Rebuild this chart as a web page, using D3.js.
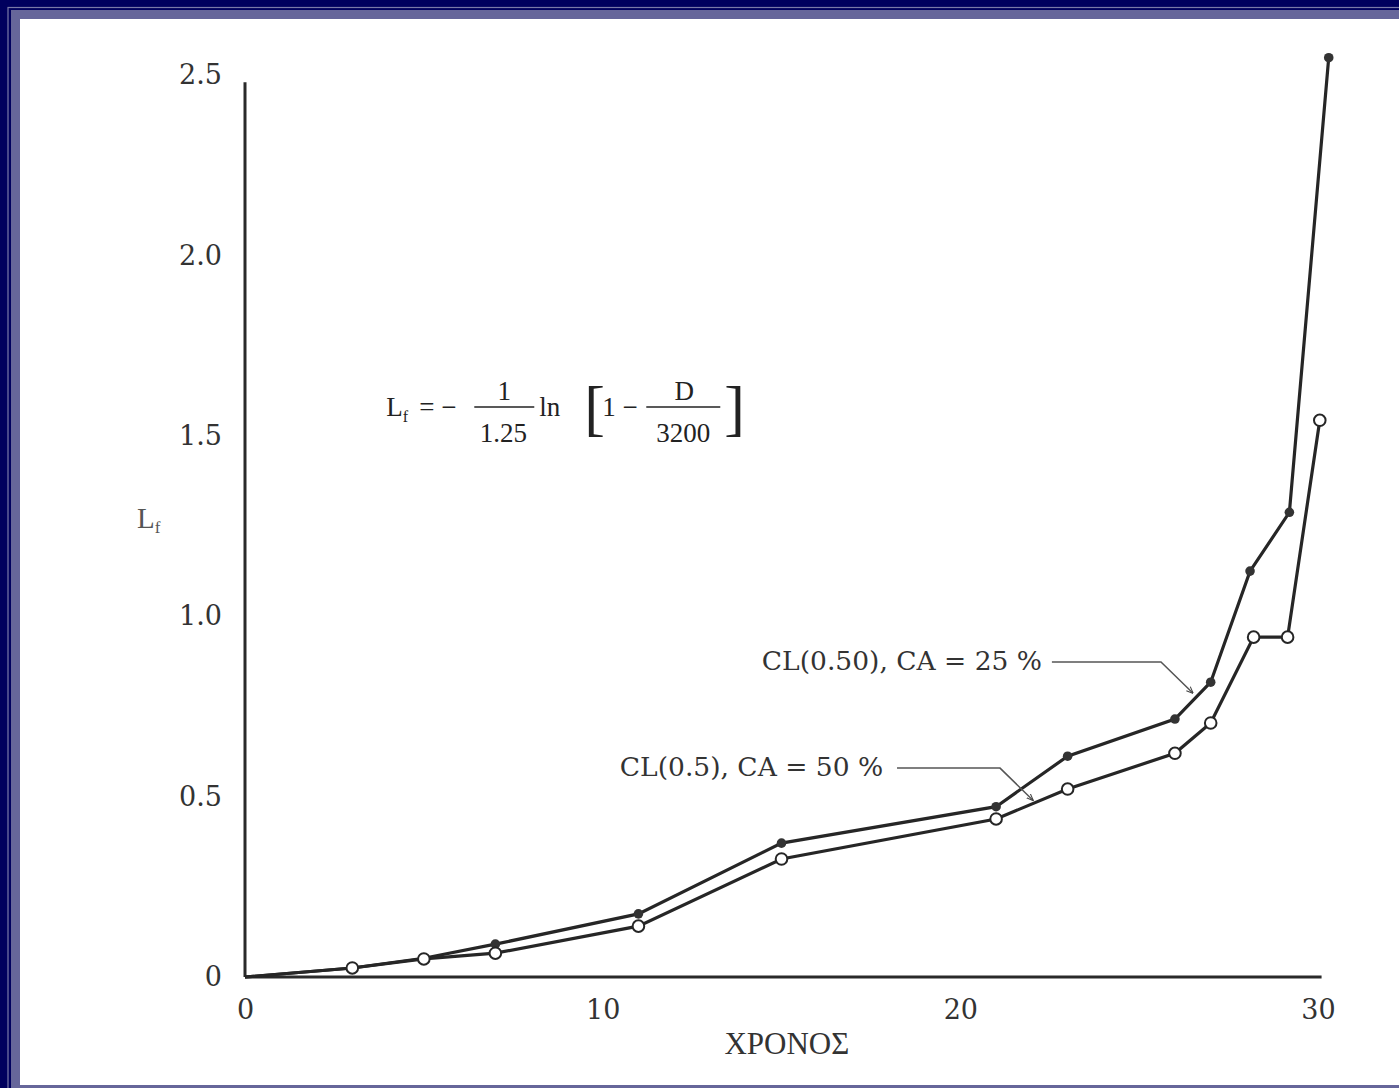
<!DOCTYPE html>
<html>
<head>
<meta charset="utf-8">
<script src="https://cdn.jsdelivr.net/npm/d3@7"></script>
<style>
  html, body { margin: 0; padding: 0; background: #00005e; }
  svg { display: block; }
</style>
</head>
<body>
<svg id="chart" width="1399" height="1088"></svg>
<script>
// ---- data ----
const years25 = [0, 3, 5, 7, 11, 15, 21, 23, 26, 27, 28.1, 29.2, 30.3];
const lf25    = [0, 0.025, 0.052, 0.091, 0.175, 0.371, 0.472, 0.612, 0.715, 0.817, 1.125, 1.288, 2.548];
const years50 = [0, 3, 5, 7, 11, 15, 21, 23, 26, 27, 28.2, 29.15, 30.05];
const lf50    = [0, 0.025, 0.050, 0.066, 0.141, 0.327, 0.438, 0.521, 0.620, 0.704, 0.942, 0.942, 1.543];
const markStart = 1; // first point (origin) has no marker
const xTickValues = [0, 10, 20, 30];
const xTickLabels = ["0", "10", "20", "30"];
const yTickValues = [0, 0.5, 1.0, 1.5, 2.0, 2.5];
const yTickLabels = ["0", "0.5", "1.0", "1.5", "2.0", "2.5"];
const xTitle = "ΧΡΟΝΟΣ";
const label25 = "CL(0.50), CA = 25 %";
const label50 = "CL(0.5), CA = 50 %";
// annotation anchors and leader paths in data units
const label25Pos = [14.45, 0.85];
const leader25 = [[22.56, 0.873], [25.61, 0.873], [26.5, 0.787]];
const label50Pos = [10.48, 0.556];
const leader50 = [[18.23, 0.579], [21.11, 0.579], [22.03, 0.49]];
const formulaPos = [3.95, 1.555];

// ---- scales ----
const x = d3.scaleLinear().domain([0, 30]).range([245, 1318]);
const y = d3.scaleLinear().domain([0, 2.5]).range([977, 75]);

const svg = d3.select("#chart");

// frame
svg.append("rect").attr("x", 0).attr("y", 0).attr("width", 1399).attr("height", 1088).attr("fill", "#00005e");
svg.append("rect").attr("x", 8).attr("y", 7.5).attr("width", 1399).attr("height", 1088).attr("fill", "none")
  .attr("stroke", "#7a7aa8").attr("stroke-width", 1.2);
svg.append("rect").attr("x", 11).attr("y", 10).attr("width", 1388).attr("height", 1078).attr("fill", "#66669a");
svg.append("rect").attr("x", 20).attr("y", 19).attr("width", 1379).attr("height", 1066).attr("fill", "#ffffff");

const defs = svg.append("defs");
defs.append("marker").attr("id", "arr").attr("viewBox", "0 0 10 10")
  .attr("refX", 9).attr("refY", 5).attr("markerWidth", 7).attr("markerHeight", 7)
  .attr("markerUnits", "userSpaceOnUse").attr("orient", "auto")
  .append("path").attr("d", "M0,1 L10,5 L0,9").attr("fill", "none").attr("stroke", "#444").attr("stroke-width", 1.5);

// axes
const tickFont = "'DejaVu Serif', serif";
const gx = svg.append("g").attr("transform", `translate(0,${y(0)})`)
  .call(d3.axisBottom(x).tickValues(xTickValues).tickFormat((d, i) => xTickLabels[i]).tickSize(0).tickPadding(23));
const gy = svg.append("g").attr("transform", `translate(${x(0)},0)`)
  .call(d3.axisLeft(y).tickValues(yTickValues).tickFormat((d, i) => yTickLabels[i]).tickSize(0).tickPadding(23));
[gx, gy].forEach(g => {
  g.select(".domain").remove();
  g.selectAll("text").attr("font-family", tickFont).attr("font-size", 27).attr("fill", "#333");
});

// axis lines
svg.append("line").attr("x1", x(0)).attr("x2", x(30.1)).attr("y1", y(0)).attr("y2", y(0))
  .attr("stroke", "#2a2a2a").attr("stroke-width", 3);
svg.append("line").attr("x1", x(0)).attr("x2", x(0)).attr("y1", y(0)).attr("y2", y(2.48))
  .attr("stroke", "#2a2a2a").attr("stroke-width", 3);

// axis titles
svg.append("text").attr("x", x(15.15)).attr("y", 1054).attr("text-anchor", "middle")
  .attr("font-family", "'Liberation Serif', serif").attr("font-size", 31).attr("fill", "#333").text(xTitle);
const yl = svg.append("text").attr("x", 137).attr("y", 528)
  .attr("font-family", "'Liberation Serif', serif").attr("font-size", 29).attr("fill", "#555");
yl.append("tspan").text("L");
yl.append("tspan").attr("font-size", 17).attr("dy", 5).text("f");

// series
const line = d3.line().x(d => x(d[0])).y(d => y(d[1]));
const s25 = years25.map((v, i) => [v, lf25[i]]);
const s50 = years50.map((v, i) => [v, lf50[i]]);

svg.append("path").datum(s25).attr("d", line).attr("fill", "none").attr("stroke", "#262626").attr("stroke-width", 3.2);
svg.append("path").datum(s50).attr("d", line).attr("fill", "none").attr("stroke", "#262626").attr("stroke-width", 3.2);

svg.append("g").selectAll("circle").data(s25.slice(markStart)).join("circle")
  .attr("cx", d => x(d[0])).attr("cy", d => y(d[1])).attr("r", 4.8).attr("fill", "#333");
svg.append("g").selectAll("circle").data(s50.slice(markStart)).join("circle")
  .attr("cx", d => x(d[0])).attr("cy", d => y(d[1])).attr("r", 5.8)
  .attr("fill", "#fff").attr("stroke", "#262626").attr("stroke-width", 2);

// annotations
const annFont = "'DejaVu Serif', serif";
svg.append("text").attr("x", x(label25Pos[0])).attr("y", y(label25Pos[1]))
  .attr("font-family", annFont).attr("font-size", 26.5).attr("fill", "#333").text(label25);
svg.append("text").attr("x", x(label50Pos[0])).attr("y", y(label50Pos[1]))
  .attr("font-family", annFont).attr("font-size", 26.5).attr("fill", "#333").text(label50);
const lead = d3.line().x(d => x(d[0])).y(d => y(d[1]));
svg.append("path").datum(leader25).attr("d", lead).attr("fill", "none").attr("stroke", "#555")
  .attr("stroke-width", 1.5).attr("marker-end", "url(#arr)");
svg.append("path").datum(leader50).attr("d", lead).attr("fill", "none").attr("stroke", "#555")
  .attr("stroke-width", 1.5).attr("marker-end", "url(#arr)");

// formula
const fx = x(formulaPos[0]), fy = y(formulaPos[1]);
const F = svg.append("g").attr("transform", `translate(${fx},${fy})`)
  .attr("font-family", "'Liberation Serif', serif").attr("fill", "#222");
const t1 = F.append("text").attr("x", 0).attr("y", 0).attr("font-size", 27);
t1.append("tspan").text("L");
t1.append("tspan").attr("font-size", 16).attr("dy", 6).text("f");
F.append("text").attr("x", 33).attr("y", 0).attr("font-size", 27).text("= −");
F.append("line").attr("x1", 88).attr("x2", 148).attr("y1", -9).attr("y2", -9).attr("stroke", "#222").attr("stroke-width", 1.6);
F.append("text").attr("x", 118).attr("y", -16).attr("font-size", 27).attr("text-anchor", "middle").text("1");
F.append("text").attr("x", 117).attr("y", 26).attr("font-size", 27).attr("text-anchor", "middle").text("1.25");
F.append("text").attr("x", 153).attr("y", 0).attr("font-size", 27).text("ln");
F.append("text").attr("x", 198).attr("y", 13).attr("font-size", 62).attr("font-weight", 300).text("[");
F.append("text").attr("x", 216).attr("y", 0).attr("font-size", 27).text("1 −");
F.append("line").attr("x1", 260).attr("x2", 334).attr("y1", -9).attr("y2", -9).attr("stroke", "#222").attr("stroke-width", 1.6);
F.append("text").attr("x", 298).attr("y", -16).attr("font-size", 27).attr("text-anchor", "middle").text("D");
F.append("text").attr("x", 297).attr("y", 26).attr("font-size", 27).attr("text-anchor", "middle").text("3200");
F.append("text").attr("x", 338).attr("y", 13).attr("font-size", 62).text("]");
</script>
</body>
</html>
